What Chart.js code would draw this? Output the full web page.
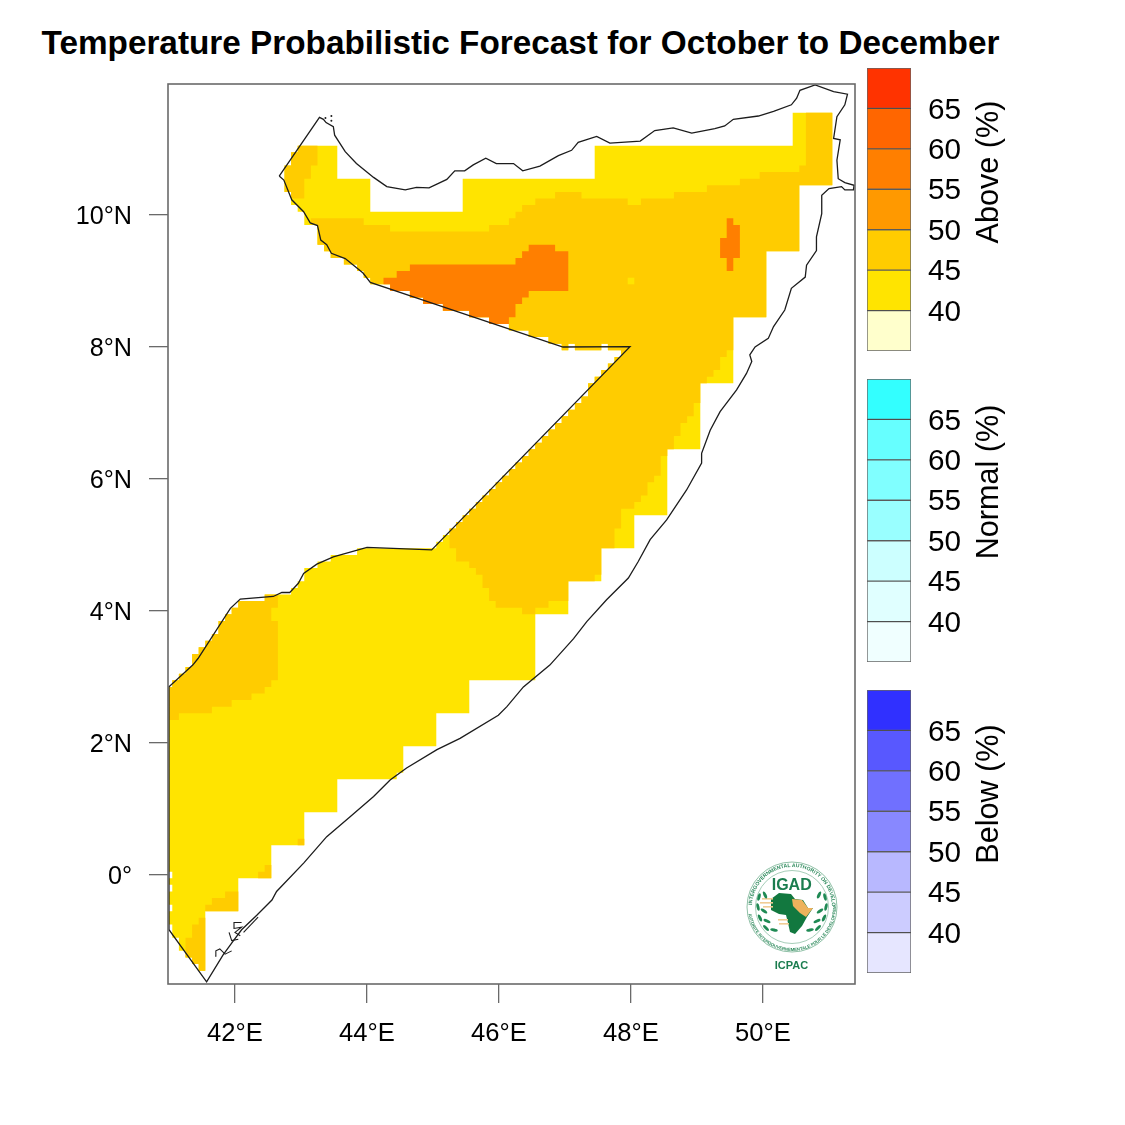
<!DOCTYPE html>
<html>
<head>
<meta charset="utf-8">
<title>Temperature Probabilistic Forecast</title>
<script src="https://cdn.jsdelivr.net/npm/chart.js@4"></script>
<style>
html,body{margin:0;padding:0;background:#fff;width:1125px;height:1125px;overflow:hidden}
#title{position:absolute;left:0;top:22px;width:1041px;text-align:center;font:bold 33.3px "Liberation Sans",Arial,sans-serif;color:#000;white-space:nowrap;line-height:42px}
canvas{position:absolute;display:block}
#logo{position:absolute;left:735px;top:855px}
</style>
</head>
<body>
<div id="title">Temperature Probabilistic Forecast for October to December</div>
<canvas id="map" style="left:0;top:0" width="1125" height="1125"></canvas>
<canvas id="barA" style="left:860px;top:57.5px" width="160" height="303"></canvas>
<canvas id="barN" style="left:860px;top:369px" width="160" height="303"></canvas>
<canvas id="barB" style="left:860px;top:680px" width="160" height="303"></canvas>
<svg id="logo" width="115" height="125" viewBox="0 0 115 125">
  <defs>
    <path id="ringTop" d="M 17 52 A 40 40 0 0 1 97 52"/>
    <path id="ringBot" d="M 13 52 A 44 44 0 0 0 101 52"/>
  </defs>
  <circle cx="57" cy="52" r="45" fill="#fff" stroke="#8fc0a6" stroke-width="1"/>
  <circle cx="57" cy="52" r="36.5" fill="#fff" stroke="#8fc0a6" stroke-width="0.8"/>
  <text font-family="Liberation Sans" font-size="5.2" font-weight="bold" fill="#2d8a5c"><textPath href="#ringTop" startOffset="2">INTERGOVERNMENTAL AUTHORITY ON DEVELOPMENT</textPath></text>
  <text font-family="Liberation Sans" font-size="4.3" font-weight="bold" fill="#2d8a5c"><textPath href="#ringBot" startOffset="7">AUTORITE INTERGOUVERNEMENTALE POUR LE DEVELOPPEMENT</textPath></text>
  <text x="56.7" y="35" text-anchor="middle" font-family="Liberation Sans" font-size="16" font-weight="bold" fill="#1b7d4f">IGAD</text>
  <path d="M36 44 L44 38 L56 39 L60 44 L68 45 L73 53 L78 53 L72 62 L67 71 L60 79 L55 77 L53 68 L51 60 L44 59 L36 55 Z" fill="#12783f"/>
  <path d="M57 44 L67 45 L73 53 L78 53 L71 62 L65 58 L58 51 Z" fill="#eeb25c"/>
  <g fill="#f1cc94"><rect x="27" y="43" width="11" height="1.6"/><rect x="25" y="47" width="13" height="1.6"/><rect x="28" y="51" width="10" height="1.6"/><rect x="43" y="64" width="10" height="1.6"/><rect x="44" y="68" width="10" height="1.6"/></g>
  <g fill="#1f8a54">
    <ellipse cx="24" cy="42" rx="1.5" ry="3.8" transform="rotate(15 24 42)"/><ellipse cx="30" cy="40" rx="1.5" ry="3.8" transform="rotate(-25 30 40)"/>
    <ellipse cx="23" cy="52" rx="1.5" ry="3.8" transform="rotate(-12 23 52)"/><ellipse cx="29" cy="56" rx="1.5" ry="3.8" transform="rotate(-55 29 56)"/>
    <ellipse cx="25" cy="63" rx="1.5" ry="3.8" transform="rotate(-25 25 63)"/><ellipse cx="32" cy="66" rx="1.5" ry="3.8" transform="rotate(-65 32 66)"/>
    <ellipse cx="31" cy="73" rx="1.5" ry="3.8" transform="rotate(-45 31 73)"/><ellipse cx="39" cy="75" rx="1.5" ry="3.8" transform="rotate(-80 39 75)"/>
    <ellipse cx="90" cy="42" rx="1.5" ry="3.8" transform="rotate(-15 90 42)"/><ellipse cx="84" cy="40" rx="1.5" ry="3.8" transform="rotate(25 84 40)"/>
    <ellipse cx="91" cy="52" rx="1.5" ry="3.8" transform="rotate(12 91 52)"/><ellipse cx="85" cy="56" rx="1.5" ry="3.8" transform="rotate(55 85 56)"/>
    <ellipse cx="89" cy="63" rx="1.5" ry="3.8" transform="rotate(25 89 63)"/><ellipse cx="82" cy="66" rx="1.5" ry="3.8" transform="rotate(65 82 66)"/>
    <ellipse cx="83" cy="73" rx="1.5" ry="3.8" transform="rotate(45 83 73)"/><ellipse cx="75" cy="75" rx="1.5" ry="3.8" transform="rotate(80 75 75)"/>
  </g>
  <text x="56.5" y="114" text-anchor="middle" font-family="Liberation Sans" font-size="11" font-weight="bold" fill="#1b7d4f">ICPAC</text>
</svg>
<script>
// ---------- tick values and labels ----------
const lonTicks = [42, 44, 46, 48, 50];
const lonLabels = ['42°E', '44°E', '46°E', '48°E', '50°E'];
const latTicks = [0, 2, 4, 6, 8, 10];
const latLabels = ['0°', '2°N', '4°N', '6°N', '8°N', '10°N'];
const lonRange = [40.985, 51.394];
const latRange = [-1.652, 11.985];

// ---------- forecast zones as [lon, lat] outlines on the 0.1° grid ----------
const zone40to45 = [[42.95,11.05],[43.55,11.05],[43.55,10.55],[44.05,10.55],[44.05,10.05],[45.45,10.05],[45.45,10.55],[47.45,10.55],[47.45,11.05],[50.45,11.05],[50.45,11.55],[51.05,11.55],[51.05,10.45],[50.55,10.45],[50.55,9.45],[50.05,9.45],[50.05,8.45],[49.55,8.45],[49.55,7.45],[49.05,7.45],[49.05,6.45],[48.55,6.45],[48.55,5.45],[48.05,5.45],[48.05,4.95],[47.55,4.95],[47.55,4.45],[47.05,4.45],[47.05,3.95],[46.55,3.95],[46.55,2.95],[45.55,2.95],[45.55,2.45],[45.05,2.45],[45.05,1.95],[44.55,1.95],[44.55,1.55],[44.45,1.55],[44.45,1.45],[43.55,1.45],[43.55,0.95],[43.05,0.95],[43.05,0.45],[42.55,0.45],[42.55,-0.05],[42.05,-0.05],[42.05,-0.55],[41.55,-0.55],[41.55,-1.45],[41.45,-1.45],[41.45,-1.35],[41.35,-1.35],[41.35,-1.25],[41.25,-1.25],[41.25,-1.15],[41.15,-1.15],[41.15,-0.95],[41.05,-0.95],[41.05,-0.75],[41,-0.75],[41,-0.55],[41.05,-0.55],[41.05,-0.45],[41,-0.45],[41,-0.25],[41.05,-0.25],[41.05,-0.15],[41,-0.15],[41,-0.05],[41.05,-0.05],[41.05,0.05],[41,0.05],[41,2.85],[41.05,2.85],[41.05,2.95],[41.15,2.95],[41.15,3.05],[41.25,3.05],[41.25,3.15],[41.35,3.15],[41.35,3.35],[41.45,3.35],[41.45,3.45],[41.55,3.45],[41.55,3.55],[41.65,3.55],[41.65,3.65],[41.75,3.65],[41.75,3.85],[41.85,3.85],[41.85,3.95],[41.95,3.95],[41.95,4.05],[42.05,4.05],[42.05,4.15],[42.45,4.15],[42.45,4.25],[42.85,4.25],[42.85,4.35],[42.95,4.35],[42.95,4.45],[43.05,4.45],[43.05,4.65],[43.25,4.65],[43.25,4.75],[43.45,4.75],[43.45,4.85],[43.85,4.85],[43.85,4.95],[45.05,4.95],[45.05,5.05],[45.15,5.05],[45.15,5.15],[45.25,5.15],[45.25,5.25],[45.35,5.25],[45.35,5.35],[45.45,5.35],[45.45,5.45],[45.55,5.45],[45.55,5.55],[45.65,5.55],[45.65,5.65],[45.75,5.65],[45.75,5.75],[45.85,5.75],[45.85,5.85],[45.95,5.85],[45.95,5.95],[46.05,5.95],[46.05,6.05],[46.15,6.05],[46.15,6.15],[46.25,6.15],[46.25,6.25],[46.35,6.25],[46.35,6.35],[46.45,6.35],[46.45,6.45],[46.55,6.45],[46.55,6.55],[46.65,6.55],[46.65,6.65],[46.75,6.65],[46.75,6.75],[46.85,6.75],[46.85,6.85],[46.95,6.85],[46.95,6.95],[47.05,6.95],[47.05,7.05],[47.15,7.05],[47.15,7.15],[47.25,7.15],[47.25,7.25],[47.35,7.25],[47.35,7.45],[47.45,7.45],[47.45,7.55],[47.55,7.55],[47.55,7.65],[47.65,7.65],[47.65,7.75],[47.75,7.75],[47.75,7.85],[47.85,7.85],[47.85,7.95],[47.65,7.95],[47.65,8.05],[47.55,8.05],[47.55,7.95],[47.15,7.95],[47.15,8.05],[47.05,8.05],[47.05,7.95],[46.95,7.95],[46.95,8.05],[46.75,8.05],[46.75,8.15],[46.45,8.15],[46.45,8.25],[46.15,8.25],[46.15,8.35],[45.85,8.35],[45.85,8.45],[45.55,8.45],[45.55,8.55],[45.15,8.55],[45.15,8.65],[44.85,8.65],[44.85,8.75],[44.65,8.75],[44.65,8.85],[44.35,8.85],[44.35,8.95],[44.05,8.95],[44.05,9.05],[43.95,9.05],[43.95,9.15],[43.85,9.15],[43.85,9.25],[43.65,9.25],[43.65,9.35],[43.45,9.35],[43.45,9.45],[43.35,9.45],[43.35,9.55],[43.25,9.55],[43.25,9.85],[43.05,9.85],[43.05,10.05],[42.95,10.05],[42.95,10.15],[42.85,10.15],[42.85,10.35],[42.75,10.35],[42.75,10.75],[42.85,10.75],[42.85,10.95],[42.95,10.95]];

const zone45Main = [[43.15,9.95],[43.95,9.95],[43.95,9.85],[44.35,9.85],[44.35,9.75],[45.85,9.75],[45.85,9.85],[46.15,9.85],[46.15,9.95],[46.25,9.95],[46.25,10.05],[46.35,10.05],[46.35,10.15],[46.55,10.15],[46.55,10.25],[46.85,10.25],[46.85,10.35],[47.25,10.35],[47.25,10.25],[47.95,10.25],[47.95,10.15],[48.15,10.15],[48.15,10.25],[48.65,10.25],[48.65,10.35],[49.15,10.35],[49.15,10.45],[49.65,10.45],[49.65,10.55],[49.95,10.55],[49.95,10.65],[50.55,10.65],[50.55,10.75],[50.65,10.75],[50.65,11.55],[51.05,11.55],[51.05,10.45],[50.55,10.45],[50.55,9.45],[50.05,9.45],[50.05,8.45],[49.55,8.45],[49.55,7.95],[49.45,7.95],[49.45,7.85],[49.35,7.85],[49.35,7.65],[49.25,7.65],[49.25,7.55],[49.15,7.55],[49.15,7.45],[49.05,7.45],[49.05,7.15],[48.95,7.15],[48.95,6.95],[48.85,6.95],[48.85,6.85],[48.75,6.85],[48.75,6.65],[48.65,6.65],[48.65,6.45],[48.55,6.45],[48.55,6.35],[48.45,6.35],[48.45,6.05],[48.35,6.05],[48.35,5.95],[48.25,5.95],[48.25,5.75],[48.15,5.75],[48.15,5.65],[48.05,5.65],[48.05,5.55],[47.85,5.55],[47.85,5.25],[47.75,5.25],[47.75,4.95],[47.55,4.95],[47.55,4.55],[47.45,4.55],[47.45,4.45],[47.05,4.45],[47.05,4.15],[46.75,4.15],[46.75,4.05],[46.55,4.05],[46.55,3.95],[46.35,3.95],[46.35,4.05],[45.95,4.05],[45.95,4.15],[45.85,4.15],[45.85,4.35],[45.75,4.35],[45.75,4.55],[45.65,4.55],[45.65,4.65],[45.55,4.65],[45.55,4.75],[45.35,4.75],[45.35,4.95],[45.25,4.95],[45.25,5.25],[45.35,5.25],[45.35,5.35],[45.45,5.35],[45.45,5.45],[45.55,5.45],[45.55,5.55],[45.65,5.55],[45.65,5.65],[45.75,5.65],[45.75,5.75],[45.85,5.75],[45.85,5.85],[45.95,5.85],[45.95,5.95],[46.05,5.95],[46.05,6.05],[46.15,6.05],[46.15,6.15],[46.25,6.15],[46.25,6.25],[46.35,6.25],[46.35,6.35],[46.45,6.35],[46.45,6.45],[46.55,6.45],[46.55,6.55],[46.65,6.55],[46.65,6.65],[46.75,6.65],[46.75,6.75],[46.85,6.75],[46.85,6.85],[46.95,6.85],[46.95,6.95],[47.05,6.95],[47.05,7.05],[47.15,7.05],[47.15,7.15],[47.25,7.15],[47.25,7.25],[47.35,7.25],[47.35,7.45],[47.45,7.45],[47.45,7.55],[47.55,7.55],[47.55,7.65],[47.65,7.65],[47.65,7.75],[47.75,7.75],[47.75,7.85],[47.85,7.85],[47.85,7.95],[47.65,7.95],[47.65,8.05],[47.55,8.05],[47.55,7.95],[47.15,7.95],[47.15,8.05],[47.05,8.05],[47.05,7.95],[46.95,7.95],[46.95,8.05],[46.75,8.05],[46.75,8.15],[46.45,8.15],[46.45,8.25],[46.15,8.25],[46.15,8.35],[45.85,8.35],[45.85,8.45],[45.55,8.45],[45.55,8.55],[45.15,8.55],[45.15,8.65],[44.85,8.65],[44.85,8.75],[44.65,8.75],[44.65,8.85],[44.35,8.85],[44.35,8.95],[44.05,8.95],[44.05,9.05],[43.95,9.05],[43.95,9.15],[43.85,9.15],[43.85,9.25],[43.65,9.25],[43.65,9.35],[43.45,9.35],[43.45,9.45],[43.35,9.45],[43.35,9.55],[43.25,9.55],[43.25,9.85],[43.15,9.85]];
const zone45Northwest = [[42.95,11.05],[43.25,11.05],[43.25,10.75],[43.15,10.75],[43.15,10.55],[43.05,10.55],[43.05,10.25],[42.85,10.25],[42.85,10.35],[42.75,10.35],[42.75,10.75],[42.85,10.75],[42.85,10.95],[42.95,10.95]];
const zone45Southwest = [[41,2.85],[41.05,2.85],[41.05,2.95],[41.15,2.95],[41.15,3.05],[41.25,3.05],[41.25,3.15],[41.35,3.15],[41.35,3.35],[41.45,3.35],[41.45,3.45],[41.55,3.45],[41.55,3.55],[41.65,3.55],[41.65,3.65],[41.75,3.65],[41.75,3.85],[41.85,3.85],[41.85,3.95],[41.95,3.95],[41.95,4.05],[42.05,4.05],[42.05,4.15],[42.45,4.15],[42.45,4.25],[42.65,4.25],[42.65,4.05],[42.55,4.05],[42.55,3.85],[42.65,3.85],[42.65,2.95],[42.55,2.95],[42.55,2.85],[42.45,2.85],[42.45,2.75],[42.25,2.75],[42.25,2.65],[41.95,2.65],[41.95,2.55],[41.65,2.55],[41.65,2.45],[41.15,2.45],[41.15,2.35],[41,2.35]];
const zone45South = [[41.45,-0.65],[41.55,-0.65],[41.55,-1.45],[41.45,-1.45],[41.45,-1.35],[41.35,-1.35],[41.35,-1.25],[41.25,-1.25],[41.25,-0.95],[41.35,-0.95],[41.35,-0.75],[41.45,-0.75]];
const zone45Coast1 = [[41.55,-0.55],[41.55,-0.45],[41.65,-0.45],[41.65,-0.35],[41.85,-0.35],[41.85,-0.25],[42.05,-0.25],[42.05,-0.55]];
const zone45Coast2 = [[42.35,-0.05],[42.35,0.05],[42.45,0.05],[42.45,0.15],[42.55,0.15],[42.55,-0.05]];
const zone45Coast3 = [[42.95,0.45],[42.95,0.55],[43.05,0.55],[43.05,0.45]];

const zone50West = [[44.25,8.95],[44.35,8.95],[44.35,8.85],[44.65,8.85],[44.65,8.75],[44.85,8.75],[44.85,8.65],[45.15,8.65],[45.15,8.55],[45.55,8.55],[45.55,8.45],[45.85,8.45],[45.85,8.35],[46.15,8.35],[46.15,8.45],[46.25,8.45],[46.25,8.65],[46.35,8.65],[46.35,8.75],[46.45,8.75],[46.45,8.85],[47.05,8.85],[47.05,9.45],[46.85,9.45],[46.85,9.55],[46.45,9.55],[46.45,9.45],[46.35,9.45],[46.35,9.35],[46.25,9.35],[46.25,9.25],[44.65,9.25],[44.65,9.15],[44.45,9.15],[44.45,9.05],[44.25,9.05]];
const zone50East = [[49.45,9.95],[49.55,9.95],[49.55,9.85],[49.65,9.85],[49.65,9.35],[49.55,9.35],[49.55,9.15],[49.45,9.15],[49.45,9.35],[49.35,9.35],[49.35,9.65],[49.45,9.65]];
const zone40Spot = [[47.95,8.95],[48.05,8.95],[48.05,9.05],[47.95,9.05]];

// ---------- Somalia outline and coast ----------
const outline = [[42.67,10.59],[43.28,11.48],[43.34,11.45],[43.38,11.40],[43.49,11.34],[43.51,11.21],[43.67,10.96],[43.84,10.78],[44.10,10.57],[44.30,10.43],[44.58,10.38],[44.75,10.42],[44.94,10.41],[45.21,10.54],[45.33,10.67],[45.48,10.67],[45.61,10.76],[45.80,10.86],[45.96,10.78],[46.22,10.78],[46.36,10.67],[46.62,10.74],[46.90,10.90],[47.10,10.98],[47.20,11.10],[47.48,11.19],[47.68,11.09],[48.14,11.12],[48.36,11.28],[48.64,11.32],[48.92,11.24],[49.27,11.31],[49.42,11.35],[49.55,11.45],[49.93,11.50],[50.16,11.57],[50.43,11.67],[50.51,11.77],[50.56,11.89],[50.79,11.97],[51.07,11.87],[51.28,11.83],[51.24,11.67],[51.12,11.49],[51.07,11.16],[51.17,11.14],[51.12,10.83],[51.14,10.55],[51.24,10.49],[51.38,10.45],[51.37,10.38],[51.24,10.38],[51.19,10.43],[51.00,10.40],[50.89,10.30],[50.89,10.02],[50.81,9.67],[50.81,9.46],[50.66,9.24],[50.64,9.06],[50.43,8.89],[50.33,8.56],[50.16,8.31],[50.08,8.13],[49.88,8.00],[49.80,7.88],[49.83,7.78],[49.75,7.60],[49.60,7.35],[49.35,7.02],[49.20,6.74],[49.07,6.39],[49.07,6.24],[48.84,5.83],[48.54,5.38],[48.29,5.08],[48.11,4.75],[47.96,4.50],[47.63,4.17],[47.33,3.84],[47.13,3.58],[46.77,3.18],[46.37,2.85],[46.12,2.55],[45.99,2.42],[45.41,2.07],[45.06,1.90],[44.60,1.62],[44.35,1.44],[44.10,1.19],[43.74,0.88],[43.39,0.58],[43.04,0.18],[42.63,-0.25],[42.56,-0.38],[42.33,-0.61],[42.10,-0.83],[41.98,-0.99],[41.82,-1.21],[41.57,-1.62],[41.00,-0.83],[41.00,2.85],[41.36,3.18],[41.44,3.28],[41.93,4.04],[42.08,4.18],[42.58,4.22],[42.71,4.28],[42.83,4.28],[42.96,4.42],[43.04,4.57],[43.24,4.71],[43.49,4.82],[44.00,4.965],[44.98,4.925],[47.985,8.005],[46.97,8.00],[44.05,8.98],[43.94,9.12],[43.67,9.34],[43.46,9.42],[43.39,9.55],[43.30,9.62],[43.25,9.84],[43.14,9.88],[43.04,10.05],[42.86,10.23],[42.74,10.53],[42.67,10.59]];
const isletsA = [[41.70,-1.23],[41.71,-1.15],[41.77,-1.12],[41.85,-1.20],[41.95,-1.15]];
const isletsB = [[41.91,-0.87],[41.95,-0.995],[42.05,-0.975]];
const isletsC = [[42.10,-0.72],[41.985,-0.72],[41.985,-0.81],[42.10,-0.79],[42.00,-0.87],[42.08,-0.92]];
const isletsD = [[42.13,-0.87],[42.35,-0.64]];
const zeilaDots = [[43.46,11.50],[43.46,11.43],[43.37,11.47]];

// ---------- colour key ----------
const keyEdges = [35, 40, 45, 50, 55, 60, 65, 70];
const keyTickValues = [40, 45, 50, 55, 60, 65];
const aboveColors = ['#FFFFCC', '#FFE400', '#FFCC00', '#FF9900', '#FF7F00', '#FF6600', '#FF3300'];
const normalColors = ['#F0FFFF', '#E0FFFF', '#CCFFFF', '#99FFFF', '#80FFFF', '#66FFFF', '#33FFFF'];
const belowColors = ['#E6E6FF', '#CCCCFF', '#B8B8FF', '#8888FF', '#7070FF', '#5858FF', '#3030FF'];

// ---------- chart building ----------
const FONT = '"Liberation Sans", Arial, sans-serif';
Chart.defaults.animation = false;
Chart.defaults.responsive = false;
Chart.defaults.devicePixelRatio = 1;
const toXY = a => a.map(p => ({x: p[0], y: p[1]}));

const zone = (poly, color, order) => ({
  data: toXY(poly), showLine: true, fill: 'shape', backgroundColor: color,
  borderColor: color, borderWidth: 0, pointRadius: 0, tension: 0, order
});
const border = (line, width) => ({
  data: toXY(line), showLine: true, fill: false, borderColor: '#1c1c1c', borderWidth: width,
  pointRadius: 0, tension: 0, order: 1
});

// nudges the y tick labels so their optical centre sits on the tick
const nudgeLabels = (axisId, dy) => ({
  id: 'nudge' + axisId,
  beforeDraw(c) {
    c.scales[axisId].getLabelItems(c.chartArea).forEach(it => { it.options.translation[1] += dy; });
  }
});

const framePlugin = {
  id: 'frame',
  afterDraw(c) {
    const a = c.chartArea, g = c.ctx;
    g.save();
    g.strokeStyle = '#6a6a6a';
    g.lineWidth = 1.6;
    g.strokeRect(a.left, a.top, a.right - a.left, a.bottom - a.top);
    g.restore();
  }
};

new Chart(document.getElementById('map'), {
  type: 'scatter',
  plugins: [framePlugin, nudgeLabels('y', 2)],
  data: {
    datasets: [
      zone(zone40to45, aboveColors[1], 30),
      zone(zone45Main, aboveColors[2], 20),
      zone(zone45Northwest, aboveColors[2], 20),
      zone(zone45Southwest, aboveColors[2], 20),
      zone(zone45South, aboveColors[2], 20),
      zone(zone45Coast1, aboveColors[2], 20),
      zone(zone45Coast2, aboveColors[2], 20),
      zone(zone45Coast3, aboveColors[2], 20),
      zone(zone50West, aboveColors[4], 10),
      zone(zone50East, aboveColors[4], 10),
      zone(zone40Spot, aboveColors[1], 10),
      border(outline, 1.3),
      border(isletsA, 1.1), border(isletsB, 1.1), border(isletsC, 1.1), border(isletsD, 1.1),
      {data: toXY(zeilaDots), pointRadius: 1, pointBackgroundColor: '#1c1c1c', pointBorderWidth: 0, showLine: false, order: 1}
    ]
  },
  options: {
    layout: {padding: {left: 60, right: 270, top: 84, bottom: 81}},
    plugins: {legend: {display: false}, title: {display: false}, tooltip: {enabled: false}},
    scales: {
      x: {
        type: 'linear', min: lonRange[0], max: lonRange[1],
        afterBuildTicks: s => { s.ticks = lonTicks.map(value => ({value})); },
        afterFit: s => { s.height = 60; },
        grid: {drawOnChartArea: false, drawTicks: true, tickLength: 19, color: '#6a6a6a', lineWidth: 1.3},
        border: {display: false},
        ticks: {
          autoSkip: false, maxRotation: 0, padding: 16, color: '#000',
          font: {family: FONT, size: 25.6},
          callback: v => lonLabels[lonTicks.indexOf(v)]
        }
      },
      y: {
        type: 'linear', min: latRange[0], max: latRange[1],
        afterBuildTicks: s => { s.ticks = latTicks.map(value => ({value})); },
        afterFit: s => { s.width = 108; },
        grid: {drawOnChartArea: false, drawTicks: true, tickLength: 19, color: '#6a6a6a', lineWidth: 1.3},
        border: {display: false},
        ticks: {
          autoSkip: false, padding: 17, color: '#000',
          font: {family: FONT, size: 25.2},
          callback: v => latLabels[latTicks.indexOf(v)]
        }
      }
    }
  }
});

function colourKey(id, colors, name, nameCenterY) {
  const slices = colors.map((c, i) => ({
    label: String(keyEdges[i]),
    data: [[keyEdges[i], keyEdges[i + 1]]],
    backgroundColor: c, borderColor: 'rgba(50,50,50,0.75)', borderWidth: 1, borderSkipped: false,
    barPercentage: 1, categoryPercentage: 1
  }));
  new Chart(document.getElementById(id), {
    type: 'bar',
    data: {labels: [name], datasets: slices},
    plugins: [nudgeLabels('y', 2), {
      id: 'keyName',
      afterDraw(c) {
        const g = c.ctx;
        g.save();
        g.translate(130, nameCenterY);
        g.rotate(-Math.PI / 2);
        g.font = '30.6px ' + FONT;
        g.fillStyle = '#000';
        g.textAlign = 'center';
        g.textBaseline = 'middle';
        g.fillText(name, 0, 0);
        g.restore();
      }
    }],
    options: {
      layout: {padding: {left: 7, right: 0, top: 10, bottom: 10}},
      plugins: {legend: {display: false}, title: {display: false}, tooltip: {enabled: false}},
      scales: {
        x: {stacked: true, display: false},
        y: {
          position: 'right', min: keyEdges[0], max: keyEdges[keyEdges.length - 1],
          afterBuildTicks: s => { s.ticks = keyTickValues.map(value => ({value})); },
          afterFit: s => { s.width = 109; s.paddingTop = 0; s.paddingBottom = 0; },
          grid: {display: false, drawTicks: false},
          border: {display: false},
          ticks: {
            padding: 17, color: '#000', autoSkip: false, mirror: false,
            font: {family: FONT, size: 29.7},
            callback: v => String(v)
          }
        }
      }
    }
  });
}
colourKey('barA', aboveColors, 'Above (%)', 114);
colourKey('barN', normalColors, 'Normal (%)', 113);
colourKey('barB', belowColors, 'Below (%)', 114);
</script>
</body>
</html>
